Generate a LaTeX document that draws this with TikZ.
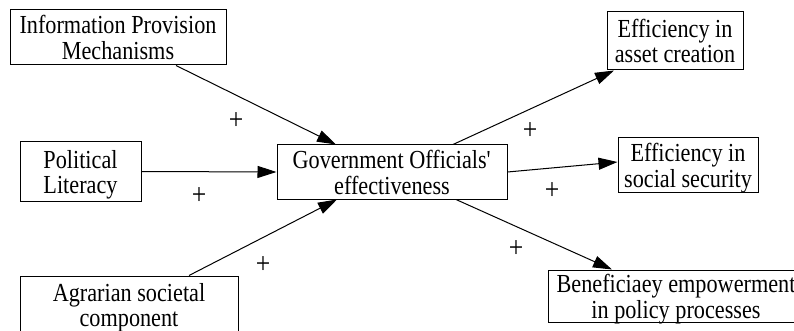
\documentclass[tikz,border=0pt]{standalone}
\usepackage{fontspec}
\setmainfont[FakeStretch=0.855]{Liberation Serif}
\usetikzlibrary{arrows.meta}
\begin{document}
\begin{tikzpicture}[x=1pt,y=-1pt,
  box/.style={draw,line width=1pt,inner sep=0pt,align=center,text height=44pt,text depth=0pt,font=\fontsize{26}{25.5}\selectfont},
  conn/.style={line width=1pt,-{Triangle[length=19pt,width=12pt]}},
  plus/.style={inner sep=0pt,font=\fontsize{30}{30}\selectfont}]
\useasboundingbox (0,0) rectangle (794,331);
\clip (0,0) rectangle (794,331);
\node[box,minimum width=216pt,minimum height=55pt] (info) at (118,37.5) {Information Provision\\Mechanisms};
\node[box,minimum width=121pt,minimum height=60pt] (pol) at (80.5,171.5) {Political\\Literacy};
\node[box,minimum width=218pt,minimum height=57pt] (agr) at (129,304.5) {Agrarian societal\\component};
\node[box,minimum width=230pt,minimum height=54pt] (gov) at (392,172) {Government Officials\textquotesingle\\effectiveness};
\node[box,minimum width=136pt,minimum height=58pt] (asset) at (675,41) {Efficiency in\\asset creation};
\node[box,minimum width=140pt,minimum height=54pt] (social) at (688,165) {Efficiency in\\social security};
\node[box,minimum width=256pt,minimum height=52pt] (ben) at (676,296) {Beneficiaey empowerment\\in policy processes};
\draw[conn] ([xshift=58pt]info.south) -- ([xshift=-56pt]gov.north);
\draw[conn] (pol.east) -- (gov.west);
\draw[conn] ([xshift=60pt]agr.north) -- ([xshift=-55pt]gov.south);
\draw[conn] ([xshift=61pt]gov.north) -- ([xshift=-61pt]asset.south);
\draw[conn] (gov.east) -- ([yshift=3pt]social.west);
\draw[conn] ([xshift=64pt]gov.south) -- ([xshift=-64pt]ben.north);
\node[plus] (p1) at (236,121) {+};
\node[plus] (p2) at (199,196) {+};
\node[plus] (p3) at (263,265) {+};
\node[plus] (p4) at (530,131) {+};
\node[plus] (p5) at (552,191) {+};
\node[plus] (p6) at (516,249) {+};
\end{tikzpicture}
\end{document}
